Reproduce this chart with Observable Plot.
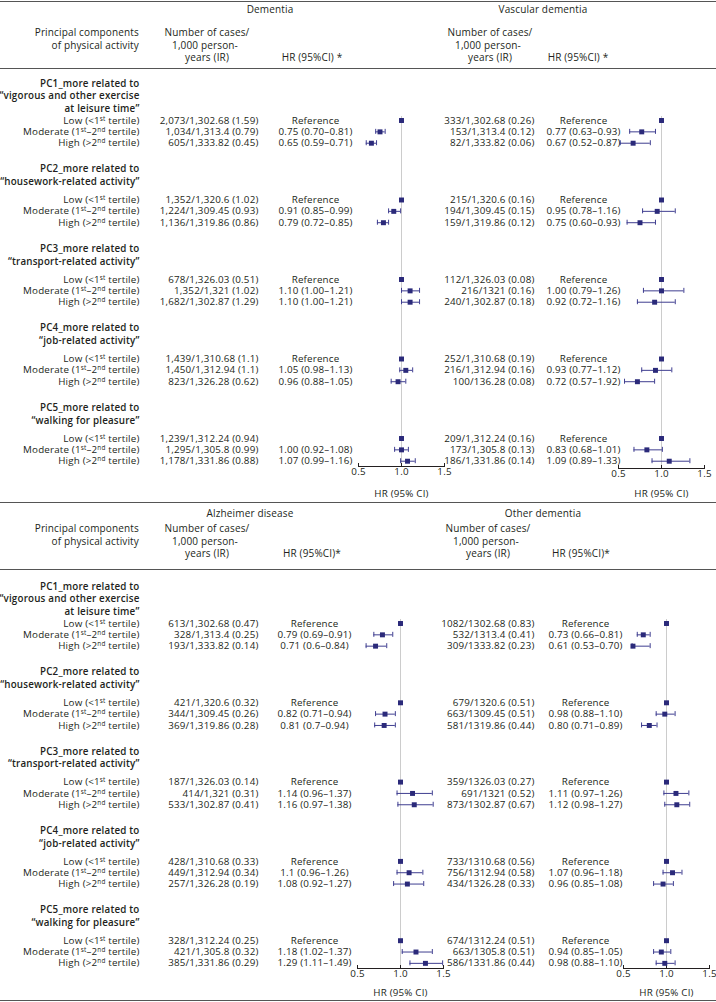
<!DOCTYPE html>
<html><head><meta charset="utf-8">
<script src="https://cdn.jsdelivr.net/npm/d3@7"></script>
<script src="https://cdn.jsdelivr.net/npm/@observablehq/plot@0.6"></script>
<style>
body{margin:0;background:#fff;font-family:"Open Sans",sans-serif;color:#231f20}
#chart{position:relative;width:716px;height:1002px;overflow:hidden;background:#fff}
.half{position:absolute;left:0;width:716px}
.half svg{position:absolute;left:0;top:0}
.rule{position:absolute;left:0;width:716px;height:0;border-top:1.5px solid #555}
.t{position:absolute;font-size:10px;letter-spacing:0.15px;line-height:12px;white-space:nowrap}
.c{transform:translate(-50%,-50%)}
.r{transform:translate(-100%,-50%)}
</style></head><body><div id="chart"></div>
<script>
// ---------- data ----------
const groupLabels = [
  "PC1_more related to\n\u201cvigorous and other exercise\nat leisure time\u201d",
  "PC2_more related to\n\u201chousework-related activity\u201d",
  "PC3_more related to\n\u201ctransport-related activity\u201d",
  "PC4_more related to\n\u201cjob-related activity\u201d",
  "PC5_more related to\n\u201cwalking for pleasure\u201d"
];
const levelLabels = ["Low (<1^st tertile)", "Moderate (1^st\u20132^nd tertile)", "High (>2^nd tertile)"];
const outcomeNames = ["Dementia", "Vascular dementia", "Alzheimer disease", "Other dementia"];

const dementiaCases = [
  ["2,073/1,302.68 (1.59)", "1,034/1,313.4 (0.79)", "605/1,333.82 (0.45)"],
  ["1,352/1,320.6 (1.02)", "1,224/1,309.45 (0.93)", "1,136/1,319.86 (0.86)"],
  ["678/1,326.03 (0.51)", "1,352/1,321 (1.02)", "1,682/1,302.87 (1.29)"],
  ["1,439/1,310.68 (1.1)", "1,450/1,312.94 (1.1)", "823/1,326.28 (0.62)"],
  ["1,239/1,312.24 (0.94)", "1,295/1,305.8 (0.99)", "1,178/1,331.86 (0.88)"]
];
const dementiaHRText = [
  ["Reference", "0.75 (0.70\u20130.81)", "0.65 (0.59\u20130.71)"],
  ["Reference", "0.91 (0.85\u20130.99)", "0.79 (0.72\u20130.85)"],
  ["Reference", "1.10 (1.00\u20131.21)", "1.10 (1.00\u20131.21)"],
  ["Reference", "1.05 (0.98\u20131.13)", "0.96 (0.88\u20131.05)"],
  ["", "1.00 (0.92\u20131.08)", "1.07 (0.99\u20131.16)"]
];
const dementiaHR   = [[1, 0.75, 0.65], [1, 0.91, 0.79], [1, 1.10, 1.10], [1, 1.05, 0.96], [1, 1.00, 1.07]];
const dementiaLow  = [[null, 0.70, 0.59], [null, 0.85, 0.72], [null, 1.00, 1.00], [null, 0.98, 0.88], [null, 0.92, 0.99]];
const dementiaHigh = [[null, 0.81, 0.71], [null, 0.99, 0.85], [null, 1.21, 1.21], [null, 1.13, 1.05], [null, 1.08, 1.16]];

const vascularCases = [
  ["333/1,302.68 (0.26)", "153/1,313.4 (0.12)", "82/1,333.82 (0.06)"],
  ["215/1,320.6 (0.16)", "194/1,309.45 (0.15)", "159/1,319.86 (0.12)"],
  ["112/1,326.03 (0.08)", "216/1321 (0.16)", "240/1,302.87 (0.18)"],
  ["252/1,310.68 (0.19)", "216/1,312.94 (0.16)", "100/136.28 (0.08)"],
  ["209/1,312.24 (0.16)", "173/1,305.8 (0.13)", "186/1,331.86 (0.14)"]
];
const vascularHRText = [
  ["Reference", "0.77 (0.63\u20130.93)", "0.67 (0.52\u20130.87)"],
  ["Reference", "0.95 (0.78\u20131.16)", "0.75 (0.60\u20130.93)"],
  ["Reference", "1.00 (0.79\u20131.26)", "0.92 (0.72\u20131.16)"],
  ["Reference", "0.93 (0.77\u20131.12)", "0.72 (0.57\u20131.92)"],
  ["Reference", "0.83 (0.68\u20131.01)", "1.09 (0.89\u20131.33)"]
];
const vascularHR   = [[1, 0.77, 0.67], [1, 0.95, 0.75], [1, 1.00, 0.92], [1, 0.93, 0.72], [1, 0.83, 1.09]];
const vascularLow  = [[null, 0.63, 0.52], [null, 0.78, 0.60], [null, 0.79, 0.72], [null, 0.77, 0.57], [null, 0.68, 0.89]];
const vascularHigh = [[null, 0.93, 0.87], [null, 1.16, 0.93], [null, 1.26, 1.16], [null, 1.12, 0.92], [null, 1.01, 1.33]];

const alzheimerCases = [
  ["613/1,302.68 (0.47)", "328/1,313.4 (0.25)", "193/1,333.82 (0.14)"],
  ["421/1,320.6 (0.32)", "344/1,309.45 (0.26)", "369/1,319.86 (0.28)"],
  ["187/1,326.03 (0.14)", "414/1,321 (0.31)", "533/1,302.87 (0.41)"],
  ["428/1,310.68 (0.33)", "449/1,312.94 (0.34)", "257/1,326.28 (0.19)"],
  ["328/1,312.24 (0.25)", "421/1,305.8 (0.32)", "385/1,331.86 (0.29)"]
];
const alzheimerHRText = [
  ["Reference", "0.79 (0.69\u20130.91)", "0.71 (0.6\u20130.84)"],
  ["Reference", "0.82 (0.71\u20130.94)", "0.81 (0.7\u20130.94)"],
  ["Reference", "1.14 (0.96\u20131.37)", "1.16 (0.97\u20131.38)"],
  ["Reference", "1.1 (0.96\u20131.26)", "1.08 (0.92\u20131.27)"],
  ["Reference", "1.18 (1.02\u20131.37)", "1.29 (1.11\u20131.49)"]
];
const alzheimerHR   = [[1, 0.79, 0.71], [1, 0.82, 0.81], [1, 1.14, 1.16], [1, 1.10, 1.08], [1, 1.18, 1.29]];
const alzheimerLow  = [[null, 0.69, 0.60], [null, 0.71, 0.70], [null, 0.96, 0.97], [null, 0.96, 0.92], [null, 1.02, 1.11]];
const alzheimerHigh = [[null, 0.91, 0.84], [null, 0.94, 0.94], [null, 1.37, 1.38], [null, 1.26, 1.27], [null, 1.37, 1.49]];

const otherCases = [
  ["1082/1302.68 (0.83)", "532/1313.4 (0.41)", "309/1333.82 (0.23)"],
  ["679/1320.6 (0.51)", "663/1309.45 (0.51)", "581/1319.86 (0.44)"],
  ["359/1326.03 (0.27)", "691/1321 (0.52)", "873/1302.87 (0.67)"],
  ["733/1310.68 (0.56)", "756/1312.94 (0.58)", "434/1326.28 (0.33)"],
  ["674/1312.24 (0.51)", "663/1305.8 (0.51)", "586/1331.86 (0.44)"]
];
const otherHRText = [
  ["Reference", "0.73 (0.66\u20130.81)", "0.61 (0.53\u20130.70)"],
  ["Reference", "0.98 (0.88\u20131.10)", "0.80 (0.71\u20130.89)"],
  ["Reference", "1.11 (0.97\u20131.26)", "1.12 (0.98\u20131.27)"],
  ["Reference", "1.07 (0.96\u20131.18)", "0.96 (0.85\u20131.08)"],
  ["Reference", "0.94 (0.85\u20131.05)", "0.98 (0.88\u20131.10)"]
];
const otherHR   = [[1, 0.73, 0.61], [1, 0.98, 0.80], [1, 1.11, 1.12], [1, 1.07, 0.96], [1, 0.94, 0.98]];
const otherLow  = [[null, 0.66, 0.60], [null, 0.88, 0.71], [null, 0.97, 0.98], [null, 0.96, 0.85], [null, 0.85, 0.88]];
const otherHigh = [[null, 0.81, 0.81], [null, 1.10, 0.89], [null, 1.26, 1.27], [null, 1.18, 1.08], [null, 1.05, 1.10]];

const hrTicks = [0.5, 1.0, 1.5];
const colHeaderCases = ["Number of cases/", "1,000 person-", "years (IR)"];
const rowHeader = ["Principal components", "of physical activity"];

// ---------- layout ----------
const W = 716;
const INK = "#231f20", MARK = "#2b2a7a", BAR = "#3f3e90";
const NS = "http://www.w3.org/2000/svg";
const chart = document.getElementById("chart");

function yKeys() {
  const k = [];
  for (let g = 0; g < 5; g++) k.push(`${g}L`, `${g}s`, `${g}0`, `${g}1`, `${g}2`, `${g}a`, `${g}b`);
  return k;
}

function supify(svg) {
  svg.querySelectorAll("text, tspan").forEach(el => {
    if (el.children.length) return;
    const s = el.textContent;
    if (!s.includes("^")) return;
    el.textContent = "";
    s.split(/\^(st|nd)/).forEach((p, i) => {
      if (!p) return;
      const t = document.createElementNS(NS, "tspan");
      if (i % 2 === 1) { t.setAttribute("dy", "-3"); t.setAttribute("font-size", "6.4"); }
      else if (i > 0) t.setAttribute("dy", "3");
      t.textContent = p;
      el.appendChild(t);
    });
  });
}

function panel(o) {
  const {cases, hr, lo, hi, hrText, showLabels, x0, x1, countsRight, hrCenter, height, lowY, step, frameTop, axisY, labelOffset} = o;
  const rows = [];
  for (let g = 0; g < 5; g++) for (let l = 0; l < 3; l++) {
    rows.push({key: `${g}${l}`, cases: cases[g][l], hr: hr[g][l], lo: lo[g][l], hi: hi[g][l], hrText: hrText[g][l], level: levelLabels[l]});
  }
  const groups = groupLabels.map((t, g) => ({key: `${g}L`, text: t}));
  const ci = rows.filter(d => d.lo != null);
  const r0 = lowY - 2.5 * step;
  const marginLeft = x0, marginRight = W - x1, marginTop = frameTop, marginBottom = height - axisY;
  const marks = [
    Plot.ruleX([1], {stroke: "#cccccc", strokeWidth: 1}),
    Plot.frame({anchor: "bottom", stroke: INK, strokeWidth: 1}),
    Plot.tickX(hrTicks, {x: d => d, insetTop: (axisY - frameTop) - 3, stroke: INK}),
    Plot.axisX(hrTicks, {tickFormat: d3.format(".1f"), tickSize: 0, tickPadding: 2, label: "HR (95% CI)", labelAnchor: "center", labelArrow: "none", labelOffset, fill: INK}),
    Plot.ruleY(ci, {y: "key", x1: "lo", x2: "hi", stroke: BAR, strokeWidth: 1}),
    Plot.tickX(ci, {y: "key", x: "lo", stroke: BAR, strokeWidth: 1}),
    Plot.tickX(ci, {y: "key", x: "hi", stroke: BAR, strokeWidth: 1}),
    Plot.dot(rows, {y: "key", x: "hr", symbol: "square", r: 2.8, fill: MARK, stroke: null}),
    Plot.text(rows, {y: "key", text: "cases", frameAnchor: "left", textAnchor: "end", dx: countsRight - marginLeft, fill: INK}),
    Plot.text(rows, {y: "key", text: "hrText", frameAnchor: "left", textAnchor: "middle", dx: hrCenter - marginLeft, fill: INK})
  ];
  if (showLabels) {
    marks.push(
      Plot.text(rows, {y: "key", text: "level", frameAnchor: "left", textAnchor: "end", dx: 139 - marginLeft, fill: INK}),
      Plot.text(groups, {y: "key", text: "text", frameAnchor: "left", textAnchor: "end", dx: 139 - marginLeft, dy: -2.6, fontWeight: 600, lineHeight: 1.3, fill: INK})
    );
  }
  const svg = Plot.plot({
    width: W, height, marginLeft, marginRight, marginTop, marginBottom,
    style: {fontFamily: "'Open Sans', sans-serif", fontSize: "9.8px", letterSpacing: "0.18px", color: INK, background: "transparent", overflow: "visible"},
    x: {domain: [0.5, 1.5]},
    y: {type: "band", domain: yKeys(), range: [r0, r0 + 35 * step], paddingInner: 0.56, paddingOuter: 0.28, round: false, axis: null},
    marks
  });
  supify(svg);
  return svg;
}

function addText(parent, txt, x, y, cls) {
  const d = document.createElement("div");
  d.className = "t " + cls;
  d.style.left = x + "px"; d.style.top = y + "px";
  d.textContent = txt;
  parent.appendChild(d);
}
function addRule(parent, y) {
  const d = document.createElement("div");
  d.className = "rule"; d.style.top = y + "px";
  parent.appendChild(d);
}

function half(top, height, cfg) {
  const h = document.createElement("div");
  h.className = "half"; h.style.top = top + "px"; h.style.height = height + "px";
  chart.appendChild(h);
  const hd = cfg.head;
  addRule(h, hd.ruleTop);
  addText(h, cfg.names[0], hd.titleX[0], hd.titleY, "c");
  addText(h, cfg.names[1], hd.titleX[1], hd.titleY, "c");
  rowHeader.forEach((t, i) => addText(h, t, 139, hd.lines[i], "r"));
  hd.casesX.forEach((cx, j) => {
    colHeaderCases.forEach((t, i) => addText(h, t, cx - (i === 1 ? 2 : 0), hd.lines[i], "c"));
    addText(h, cfg.hrHead, hd.hrX[j], hd.lines[2], "c");
  });
  addRule(h, hd.ruleHead);
  h.appendChild(panel(cfg.left));
  h.appendChild(panel(cfg.right));
}

const rowsTop = {height: 502, lowY: 120, step: 79.5 / 7, frameTop: 116, axisY: 466};
const rowsBot = {height: 500, lowY: 121, step: 79.3 / 7, frameTop: 117, axisY: 466};

half(0, 502, {
  names: [outcomeNames[0], outcomeNames[1]],
  hrHead: "HR (95%CI) *",
  head: {ruleTop: 1, titleX: [270, 543], titleY: 9, lines: [32, 44.5, 57], casesX: [207, 490], hrX: [312, 578], ruleHead: 68},
  left: {...rowsTop, labelOffset: 30, cases: dementiaCases, hr: dementiaHR, lo: dementiaLow, hi: dementiaHigh, hrText: dementiaHRText, showLabels: true, x0: 358, x1: 444, countsRight: 258, hrCenter: 315},
  right: {...rowsTop, axisY: 468, labelOffset: 28, cases: vascularCases, hr: vascularHR, lo: vascularLow, hi: vascularHigh, hrText: vascularHRText, showLabels: false, x0: 618, x1: 704, countsRight: 534, hrCenter: 583}
});
half(502, 500, {
  names: [outcomeNames[2], outcomeNames[3]],
  hrHead: "HR (95%CI)*",
  head: {ruleTop: 0, titleX: [250, 543], titleY: 11, lines: [26, 38.5, 51], casesX: [207, 488], hrX: [312, 581], ruleHead: 67},
  left: {...rowsBot, labelOffset: 27, cases: alzheimerCases, hr: alzheimerHR, lo: alzheimerLow, hi: alzheimerHigh, hrText: alzheimerHRText, showLabels: true, x0: 357, x1: 443, countsRight: 258, hrCenter: 314},
  right: {...rowsBot, labelOffset: 27, cases: otherCases, hr: otherHR, lo: otherLow, hi: otherHigh, hrText: otherHRText, showLabels: false, x0: 623, x1: 709, countsRight: 534, hrCenter: 585}
});
addRule(chart, 999.5);
</script></body></html>
